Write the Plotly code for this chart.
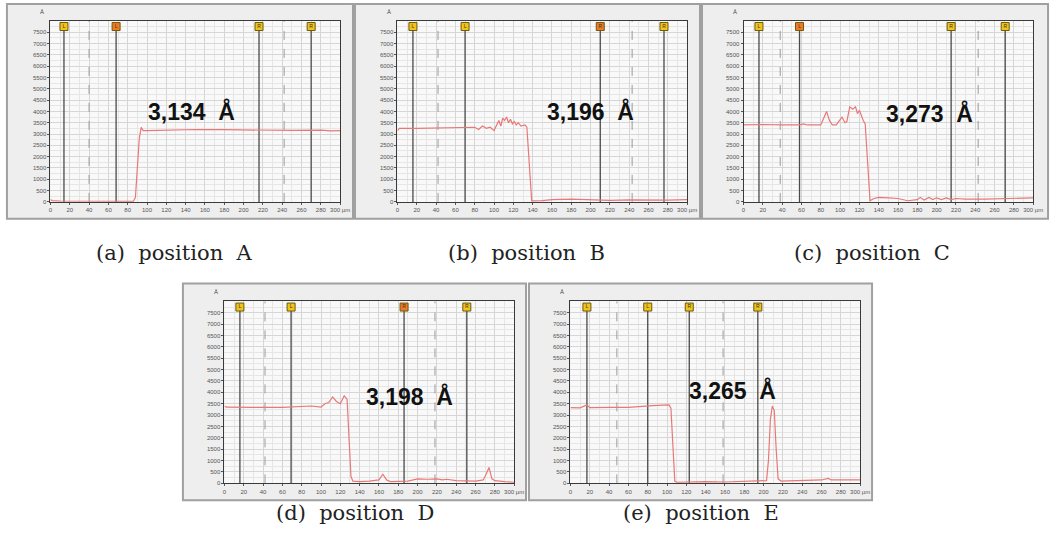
import plotly.graph_objects as go

W, H = 1061, 554

# ---------------- data ----------------
a_x = [0, 2, 10, 40, 60, 80, 86, 88, 90, 92, 94, 95, 96, 100, 120, 150, 180, 200, 220, 250, 280, 290, 300]
a_y = [100, 60, 40, 30, 20, 20, 30, 200, 1500, 2800, 3300, 3250, 3150, 3150, 3170, 3200, 3190, 3180, 3150, 3160, 3170, 3140, 3150]

b_x = [0, 2, 20, 40, 60, 70, 80, 84, 88, 92, 96, 100, 103, 105, 107, 109, 111, 113, 115, 117, 119, 121, 123, 125, 128, 132, 134, 136, 138, 139, 150, 160, 180, 200, 220, 240, 260, 280, 300]
b_y = [3150, 3250, 3250, 3260, 3270, 3300, 3300, 3200, 3350, 3250, 3300, 3150, 3450, 3600, 3350, 3700, 3600, 3750, 3500, 3650, 3450, 3550, 3400, 3500, 3350, 3400, 3300, 2000, 500, 50, 60, 100, 120, 80, 70, 90, 70, 80, 100]

c_x = [0, 20, 40, 58, 62, 66, 75, 80, 83, 86, 89, 92, 96, 100, 102, 105, 107, 110, 113, 116, 118, 120, 122, 124, 126, 128, 130, 131, 135, 140, 150, 160, 170, 180, 183, 187, 192, 196, 200, 205, 210, 215, 220, 230, 250, 280, 300]
c_y = [3400, 3420, 3400, 3400, 3450, 3400, 3400, 3400, 3700, 4000, 3600, 3400, 3400, 3600, 3750, 3500, 3550, 4200, 4100, 4200, 3900, 4050, 3800, 3600, 3450, 2000, 300, 50, 150, 200, 180, 150, 50, 100, 200, 80, 200, 100, 180, 100, 180, 100, 150, 120, 120, 140, 180]

d_x = [0, 2, 30, 60, 90, 100, 104, 108, 112, 116, 120, 124, 127, 129, 131, 133, 140, 150, 160, 164, 168, 172, 180, 190, 200, 210, 220, 226, 230, 240, 260, 268, 271, 274, 277, 280, 290, 300]
d_y = [3400, 3350, 3340, 3340, 3400, 3350, 3500, 3550, 3800, 3600, 3500, 3850, 3700, 2000, 300, 100, 80, 100, 150, 400, 150, 80, 100, 100, 200, 180, 200, 150, 180, 120, 100, 150, 400, 700, 200, 120, 80, 50]

e_x = [0, 10, 17, 20, 40, 60, 85, 95, 102, 104, 106, 108, 110, 140, 160, 180, 200, 203, 205, 207, 209, 211, 213, 215, 218, 240, 260, 267, 270, 300]
e_y = [3330, 3320, 3450, 3330, 3340, 3340, 3420, 3420, 3450, 3300, 1500, 100, 50, 80, 60, 80, 100, 120, 1000, 2800, 3400, 3200, 1500, 200, 100, 120, 150, 220, 150, 150]

# cursor positions (µm) and marker colours, dashed reference lines
a_cur = [14, 68, 216, 270]; a_cc = ["y", "o", "y", "y"]; a_cl = ["L", "L", "R", "R"]; a_dash = [40, 242]
b_cur = [16, 70, 210, 276]; b_cc = ["y", "y", "o", "y"]; b_cl = ["L", "L", "R", "R"]; b_dash = [42, 243]
c_cur = [16, 58, 215, 271]; c_cc = ["y", "o", "y", "y"]; c_cl = ["L", "L", "R", "R"]; c_dash = [38, 243]
d_cur = [16, 69, 186, 251]; d_cc = ["y", "y", "o", "y"]; d_cl = ["L", "L", "R", "R"]; d_dash = [42, 218]
e_cur = [17, 80, 123, 194]; e_cc = ["y", "y", "y", "y"]; e_cl = ["L", "L", "R", "R"]; e_dash = [48, 158]

heights = ["3,134&nbsp; Å", "3,196&nbsp; Å", "3,273&nbsp; Å", "3,198&nbsp; Å", "3,265&nbsp; Å"]
height_pos_x = [146, 200, 193, 192, 168]
height_pos_y = [4000, 4000, 3900, 3800, 4060]
captions = ["(a)&nbsp;&nbsp;position&nbsp;&nbsp;A", "(b)&nbsp;&nbsp;position&nbsp;&nbsp;B",
            "(c)&nbsp;&nbsp;position&nbsp;&nbsp;C", "(d)&nbsp;&nbsp;position&nbsp;&nbsp;D",
            "(e)&nbsp;&nbsp;position&nbsp;&nbsp;E"]

x_ticks = list(range(0, 301, 20))
x_tick_text = [str(v) for v in x_ticks[:-1]] + ["300 µm"]
y_ticks = list(range(0, 7501, 500))

# ---------------- layout geometry (pixels) ----------------
plot_px = [  # x0, x1, ytop, ybottom
    (49, 342, 21, 203),
    (400, 693, 21, 203),
    (750, 1043, 21, 203),
    (225, 518, 303, 486),
    (575, 868, 303, 486),
]
frames_px = [
    (5, 4, 355, 220),
    (357, 4, 706, 220),
    (708, 4, 1058, 220),
    (183, 285, 530, 503),
    (533, 285, 880, 503),
]
caption_px = [(174, 254), (530, 254), (880, 254), (357, 516), (707, 516)]

series = [(a_x, a_y), (b_x, b_y), (c_x, c_y), (d_x, d_y), (e_x, e_y)]
cursors = [(a_cur, a_cc, a_cl, a_dash), (b_cur, b_cc, b_cl, b_dash), (c_cur, c_cc, c_cl, c_dash),
           (d_cur, d_cc, d_cl, d_dash), (e_cur, e_cc, e_cl, e_dash)]
colmap = {"y": "#f2c318", "o": "#f07a22"}

fig = go.Figure()
shapes = []
annotations = []

def px_x(v):
    return v / W

def px_y(v):
    return 1 - v / H

for i in range(5):
    n = "" if i == 0 else str(i + 1)
    xa, ya = "x" + n, "y" + n
    x0, x1, yt, yb = plot_px[i]
    axis_common = dict(showline=True, mirror=True, linecolor="#3a3a3a", linewidth=1,
                       ticks="outside", ticklen=2, tickcolor="#555", tickwidth=1,
                       tickfont=dict(family="Arial", size=6, color="#555"),
                       showgrid=True, gridcolor="#d6d6d6", gridwidth=1, zeroline=False)
    fig.layout["xaxis" + n] = dict(domain=[px_x(x0), px_x(x1)], anchor=ya, range=[0, 300],
                                   tickvals=x_ticks, ticktext=x_tick_text,
                                   minor=dict(dtick=10, showgrid=True, gridcolor="#e6e6e6"),
                                   **axis_common)
    fig.layout["yaxis" + n] = dict(domain=[px_y(yb), px_y(yt)], anchor=xa, range=[0, 8000],
                                   tickvals=y_ticks,
                                   minor=dict(dtick=250, showgrid=True, gridcolor="#e6e6e6"),
                                   **axis_common)

    # frame
    fx0, fy0, fx1, fy1 = frames_px[i]
    shapes.append(dict(type="rect", xref="paper", yref="paper", x0=px_x(fx0), x1=px_x(fx1),
                       y0=px_y(fy1), y1=px_y(fy0), fillcolor="#eeeeee",
                       line=dict(color="#a0a0a0", width=2), layer="below"))
    # plot background
    shapes.append(dict(type="rect", xref="paper", yref="paper", x0=px_x(x0), x1=px_x(x1),
                       y0=px_y(yb), y1=px_y(yt), fillcolor="#f9f9f9",
                       line=dict(width=0), layer="below"))

    cur, cc, cl, dash = cursors[i]
    for dv in dash:
        fig.add_trace(go.Scatter(x=[dv, dv], y=[0, 8000], mode="lines", xaxis=xa, yaxis=ya,
                                 line=dict(color="#9a9a9a", width=1, dash="dash"),
                                 showlegend=False, hoverinfo="skip"))
    for cv in cur:
        fig.add_trace(go.Scatter(x=[cv, cv], y=[0, 7750], mode="lines", xaxis=xa, yaxis=ya,
                                 line=dict(color="#4a4a4a", width=1.3),
                                 showlegend=False, hoverinfo="skip"))

    sx, sy = series[i]
    fig.add_trace(go.Scatter(x=sx, y=sy, mode="lines", xaxis=xa, yaxis=ya,
                             line=dict(color="#e87878", width=1.2), showlegend=False))

    fig.add_trace(go.Scatter(x=cur, y=[7750] * len(cur), mode="markers+text", xaxis=xa, yaxis=ya,
                             marker=dict(symbol="square", size=8, color=[colmap[c] for c in cc],
                                         line=dict(color="#6a5a10", width=1)),
                             text=cl, textposition="middle center",
                             textfont=dict(size=5, color="#333", family="Arial"),
                             showlegend=False, hoverinfo="skip"))

    annotations.append(dict(x=height_pos_x[i], y=height_pos_y[i], xref=xa, yref=ya,
                            xanchor="center", yanchor="middle",
                            text="<b>" + heights[i] + "</b>", showarrow=False,
                            font=dict(family="Arial", size=23, color="#111")))
    annotations.append(dict(x=px_x(x0 - 9), y=px_y(yt - 9), xref="paper", yref="paper",
                            xanchor="center", yanchor="middle",
                            text="Å", showarrow=False,
                            font=dict(family="Arial", size=6, color="#444")))
    cx, cy = caption_px[i]
    annotations.append(dict(x=px_x(cx), y=px_y(cy), xref="paper", yref="paper",
                            xanchor="center", yanchor="middle",
                            text=captions[i], showarrow=False,
                            font=dict(family="DejaVu Serif", size=21, color="#222")))

fig.update_layout(width=W, height=H, margin=dict(l=0, r=0, t=0, b=0),
                  paper_bgcolor="white", plot_bgcolor="rgba(0,0,0,0)",
                  shapes=shapes, annotations=annotations, showlegend=False)

fig.write_html("out.html")
